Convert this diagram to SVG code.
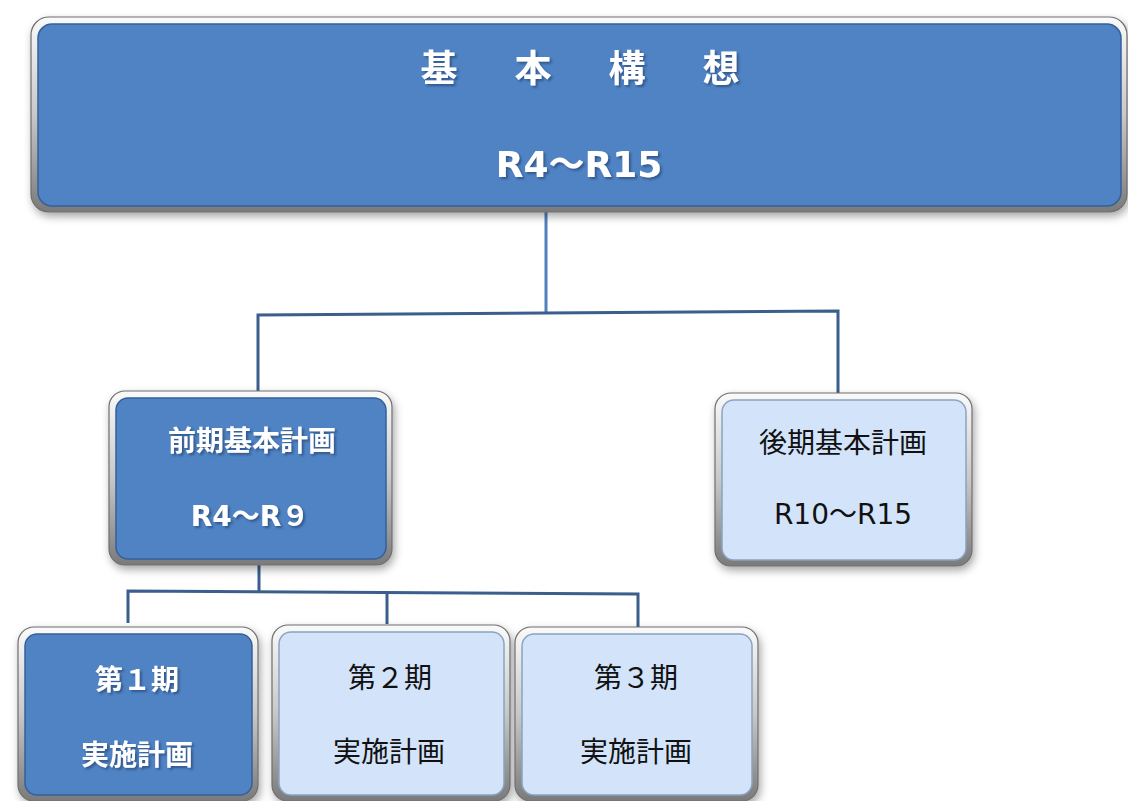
<svg xmlns="http://www.w3.org/2000/svg" width="1128" height="801" viewBox="0 0 1128 801">
<defs>
<linearGradient id="frame" x1="0" y1="0" x2="0" y2="1">
<stop offset="0" stop-color="#fafafa"/>
<stop offset="0.5" stop-color="#c8c8c8"/>
<stop offset="1" stop-color="#7a7a7a"/>
</linearGradient>
<filter id="shadow" x="-10%" y="-10%" width="120%" height="130%">
<feGaussianBlur in="SourceAlpha" stdDeviation="4"/>
<feOffset dx="2" dy="4" result="b"/>
<feFlood flood-color="#000" flood-opacity="0.35"/>
<feComposite in2="b" operator="in"/>
<feMerge><feMergeNode/><feMergeNode in="SourceGraphic"/></feMerge>
</filter>
<filter id="tshadow" x="-10%" y="-20%" width="120%" height="140%">
<feGaussianBlur in="SourceAlpha" stdDeviation="1"/>
<feOffset dx="1.5" dy="1.5" result="b"/>
<feFlood flood-color="#1f3b66" flood-opacity="0.6"/>
<feComposite in2="b" operator="in"/>
<feMerge><feMergeNode/><feMergeNode in="SourceGraphic"/></feMerge>
</filter>
</defs>
<style>
.frame{fill:url(#frame);stroke:#6e6e6e;stroke-width:1.2}
.dark{fill:#4f83c4;stroke:#35609a;stroke-width:1.5}
.light{fill:#d3e4fa;stroke:#8aa3c2;stroke-width:1.5}
.tw{fill:#fff;font-family:"DejaVu Sans","Noto Sans CJK JP",sans-serif;font-weight:bold;text-anchor:middle}
.tb{fill:#111;font-family:"DejaVu Sans","Noto Sans CJK JP",sans-serif;text-anchor:middle}
.conn{fill:none;stroke:#3b5e8c;stroke-width:3}
</style>
<rect width="1128" height="801" fill="#fff"/>

<g id="connectors">
<line x1="546" y1="212" x2="546" y2="313" stroke="#4f81bd" stroke-width="3"/>
<polyline class="conn" points="258,392 258,315 838,311 838,398"/>
<line class="conn" x1="259" y1="565" x2="259" y2="591"/>
<polyline class="conn" points="128,623 128,591 638,594 638,632"/>
<line class="conn" x1="387" y1="592" x2="387" y2="624"/>
</g>

<g id="kihon-kousou">
<rect class="frame" x="31" y="17" width="1096" height="195" rx="18" filter="url(#shadow)"/>
<rect class="dark" x="38" y="24" width="1083" height="182" rx="14"/>
<text class="tw" x="585" y="82" font-size="37" letter-spacing="10" filter="url(#tshadow)">基　本　構　想</text>
<text class="tw" x="579" y="177" font-size="36" filter="url(#tshadow)">R4～R15</text>
</g>

<g id="zenki">
<rect class="frame" x="109" y="391" width="283" height="174" rx="16" filter="url(#shadow)"/>
<rect class="dark" x="116" y="398" width="270" height="161" rx="12"/>
<text class="tw" x="252" y="451" font-size="28" filter="url(#tshadow)">前期基本計画</text>
<text class="tw" x="250" y="526" font-size="28" filter="url(#tshadow)">R4～R９</text>
</g>

<g id="kouki">
<rect class="frame" x="715" y="393" width="257" height="173" rx="16" filter="url(#shadow)"/>
<rect class="light" x="722" y="400" width="244" height="160" rx="12"/>
<text class="tb" x="843" y="453" font-size="28">後期基本計画</text>
<text class="tb" x="843" y="524" font-size="28">R10～R15</text>
</g>

<g id="dai1ki">
<rect class="frame" x="18" y="627" width="240" height="174" rx="16" filter="url(#shadow)"/>
<rect class="dark" x="25" y="634" width="227" height="161" rx="12"/>
<text class="tw" x="137" y="690" font-size="28" filter="url(#tshadow)">第１期</text>
<text class="tw" x="137" y="765" font-size="28" filter="url(#tshadow)">実施計画</text>
</g>

<g id="dai2ki">
<rect class="frame" x="272" y="625" width="238" height="176" rx="16" filter="url(#shadow)"/>
<rect class="light" x="279" y="632" width="225" height="163" rx="12"/>
<text class="tb" x="390" y="688" font-size="28">第２期</text>
<text class="tb" x="389" y="762" font-size="28">実施計画</text>
</g>

<g id="dai3ki">
<rect class="frame" x="515" y="627" width="243" height="174" rx="16" filter="url(#shadow)"/>
<rect class="light" x="522" y="634" width="230" height="161" rx="12"/>
<text class="tb" x="636" y="688" font-size="28">第３期</text>
<text class="tb" x="636" y="762" font-size="28">実施計画</text>
</g>
</svg>
